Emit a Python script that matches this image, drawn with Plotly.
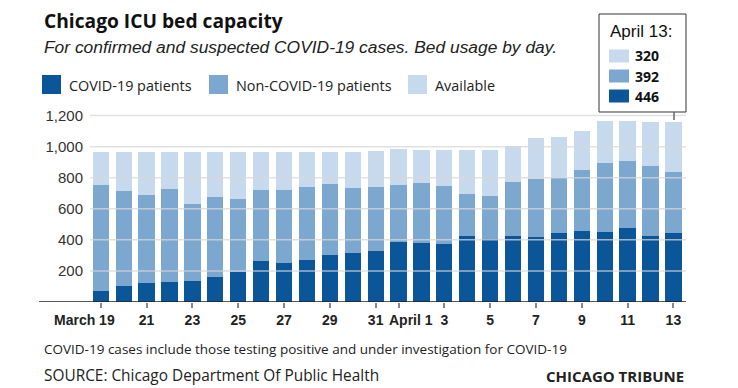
import plotly.graph_objects as go

dates = ["Mar 19", "Mar 20", "Mar 21", "Mar 22", "Mar 23", "Mar 24", "Mar 25", "Mar 26",
         "Mar 27", "Mar 28", "Mar 29", "Mar 30", "Mar 31", "Apr 1", "Apr 2", "Apr 3",
         "Apr 4", "Apr 5", "Apr 6", "Apr 7", "Apr 8", "Apr 9", "Apr 10", "Apr 11",
         "Apr 12", "Apr 13"]
covid = [71, 105, 120, 127, 137, 159, 193, 262, 251, 270, 305, 313, 328, 386, 382, 376,
         425, 404, 425, 421, 447, 459, 451, 479, 425, 446]
non_covid = [683, 610, 569, 603, 494, 515, 472, 459, 470, 471, 457, 419, 410, 370, 382, 371,
             273, 277, 350, 373, 352, 393, 442, 429, 453, 392]
available = [214, 253, 279, 234, 333, 290, 299, 247, 247, 227, 206, 236, 234, 227, 215, 232,
             281, 298, 232, 262, 262, 249, 271, 256, 281, 320]

tick_vals = ["Mar 19", "Mar 21", "Mar 23", "Mar 25", "Mar 27", "Mar 29", "Mar 31", "Apr 1",
             "Apr 3", "Apr 5", "Apr 7", "Apr 9", "Apr 11", "Apr 13"]
tick_text = ["March 19", "21", "23", "25", "27", "29", "31", "April 1", "3", "5", "7", "9", "11", "13"]
y_ticks = [200, 400, 600, 800, 1000, 1200]
box_title = "April 13:"

C_COVID = "#0b5599"
C_NON = "#7ca7cf"
C_AVAIL = "#c7daed"

W, H = 738, 388
L, R, T, B = 90, 52, 114, 86
PW, PH = W - L - R, H - T - B


def px(x):
    return (x - L) / PW


def py(y):
    return (H - B - y) / PH


fig = go.Figure()
for name, vals, col in [("COVID-19 patients", covid, C_COVID),
                        ("Non-COVID-19 patients", non_covid, C_NON),
                        ("Available", available, C_AVAIL)]:
    fig.add_trace(go.Bar(x=dates, y=vals, name=name, marker=dict(color=col, line=dict(width=0)),
                         showlegend=False))

shown_text = [("" if t in ("March 19", "April 1") else t) for t in tick_text]

fig.update_layout(
    width=W, height=H, autosize=False,
    margin=dict(l=L, r=R, t=T, b=B),
    barmode="stack", bargap=0.29,
    plot_bgcolor="white", paper_bgcolor="white",
    xaxis=dict(type="category", categoryorder="array", categoryarray=dates,
               tickmode="array", tickvals=tick_vals, ticktext=shown_text,
               ticks="outside", ticklen=5, tickwidth=1.5, tickcolor="#888",
               tickfont=dict(family="Liberation Sans", size=14, color="#222", weight="bold"),
               showgrid=False, showline=False, zeroline=False, range=[-0.47, 25.55]),
    yaxis=dict(range=[0, 1210], tickmode="array", tickvals=y_ticks, tickformat=",",
               tickfont=dict(family="Liberation Sans", size=15, color="#333"),
               showgrid=False, zeroline=False, showline=False, ticks="",
               ticklabelstandoff=6),
)

shapes = []
for v in y_ticks:
    shapes.append(dict(type="line", xref="paper", yref="y", x0=0, x1=1, y0=v, y1=v,
                       line=dict(color="rgba(215,215,215,0.75)", width=1.5), layer="above"))
shapes.append(dict(type="line", xref="paper", yref="y", x0=px(39), x1=1, y0=0, y1=0,
                   line=dict(color="#222", width=1.5), layer="above"))

annotations = []
for lab, xs in [("March 19", -16), ("April 1", 12)]:
    cat = tick_vals[tick_text.index(lab)]
    annotations.append(dict(xref="x", yref="paper", x=cat, y=0, yshift=-8, xshift=xs,
                            yanchor="top", showarrow=False, text=f"<b>{lab}</b>",
                            font=dict(family="Liberation Sans", size=14, color="#222")))

annotations.append(dict(xref="paper", yref="paper", x=px(42), y=py(20), xanchor="left",
                        yanchor="middle", showarrow=False, text="<b>Chicago ICU bed capacity</b>",
                        font=dict(family="Open Sans", size=19.2, color="#111")))
annotations.append(dict(xref="paper", yref="paper", x=px(42), y=py(47), xanchor="left",
                        yanchor="middle", showarrow=False,
                        text="<i>For confirmed and suspected COVID-19 cases. Bed usage by day.</i>",
                        font=dict(family="Liberation Sans", size=17.4, color="#222")))

legend_items = [("COVID-19 patients", C_COVID, 42), ("Non-COVID-19 patients", C_NON, 209),
                ("Available", C_AVAIL, 408)]
for lab, col, x0 in legend_items:
    shapes.append(dict(type="rect", xref="paper", yref="paper", x0=px(x0), x1=px(x0 + 19),
                       y0=py(94), y1=py(75), fillcolor=col, line=dict(width=0)))
    annotations.append(dict(xref="paper", yref="paper", x=px(x0 + 25), y=py(85), xanchor="left",
                            yanchor="middle", showarrow=False, text=lab,
                            font=dict(family="Open Sans", size=14.4, color="#222")))

shapes.append(dict(type="rect", xref="paper", yref="paper", x0=px(599), x1=px(686),
                   y0=py(112), y1=py(14), fillcolor="white", line=dict(color="#333", width=1)))
shapes.append(dict(type="line", xref="paper", yref="paper", x0=px(674), x1=px(674),
                   y0=py(112), y1=py(120), line=dict(color="#666", width=1.5)))
annotations.append(dict(xref="paper", yref="paper", x=px(608), y=py(31), xanchor="left",
                        yanchor="middle", showarrow=False, text=box_title,
                        font=dict(family="Liberation Sans", size=17, color="#111")))
box_rows = [(available[-1], C_AVAIL, 56), (non_covid[-1], C_NON, 76), (covid[-1], C_COVID, 96)]
for val, col, yc in box_rows:
    shapes.append(dict(type="rect", xref="paper", yref="paper", x0=px(609), x1=px(629),
                       y0=py(yc + 6.5), y1=py(yc - 6.5), fillcolor=col, line=dict(width=0)))
    annotations.append(dict(xref="paper", yref="paper", x=px(633), y=py(yc), xanchor="left",
                            yanchor="middle", showarrow=False, text=f"<b>{val}</b>",
                            font=dict(family="Open Sans", size=14, color="#111")))

annotations.append(dict(xref="paper", yref="paper", x=px(42), y=py(349), xanchor="left",
                        yanchor="middle", showarrow=False,
                        text="COVID-19 cases include those testing positive and under investigation for COVID-19",
                        font=dict(family="Open Sans", size=13.5, color="#222")))
annotations.append(dict(xref="paper", yref="paper", x=px(42), y=py(375), xanchor="left",
                        yanchor="middle", showarrow=False,
                        text="SOURCE: Chicago Department Of Public Health",
                        font=dict(family="Open Sans", size=15.4, color="#222")))
annotations.append(dict(xref="paper", yref="paper", x=px(686), y=py(376), xanchor="right",
                        yanchor="middle", showarrow=False, text="<b>CHICAGO TRIBUNE</b>",
                        font=dict(family="Open Sans", size=15, color="#222")))

fig.update_layout(shapes=shapes, annotations=annotations)
fig.write_html("out.html", config={"displayModeBar": False},
               post_script="document.body.style.margin='0px';")
